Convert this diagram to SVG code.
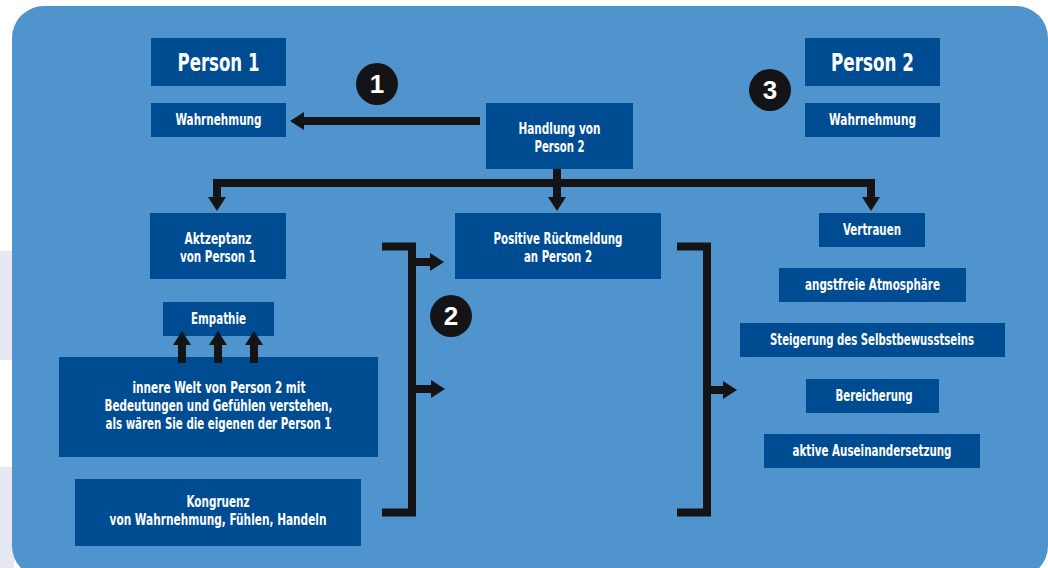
<svg xmlns="http://www.w3.org/2000/svg" width="1048" height="568" viewBox="0 0 1048 568">
  <defs>
    <style>
      .box { fill: #004c92; }
      .t { fill: #ffffff; font-family: "DejaVu Sans Condensed", "Liberation Sans", sans-serif; font-weight: bold; text-anchor: middle; font-size: 15px; }
      .big { font-size: 24px; }
      .wire { fill: none; stroke: #141416; stroke-width: 8; stroke-linejoin: miter; stroke-linecap: butt; }
      .badge circle { fill: #141416; }
      .badge text { fill: #ffffff; font-family: "Liberation Sans", Arial, sans-serif; font-weight: bold; font-size: 26px; text-anchor: middle; }
    </style>
    <marker id="head" markerUnits="userSpaceOnUse" markerWidth="14" markerHeight="18" refX="0" refY="9" orient="auto-start-reverse" viewBox="0 0 14 18">
      <path d="M0,0 L14,9 L0,18 Z" fill="#141416"/>
    </marker>
  </defs>

  <!-- page background -->
  <rect x="0" y="0" width="1048" height="568" fill="#ffffff"/>
  <rect x="0" y="251" width="14" height="109" fill="#e6e9f3"/>
  <rect x="0" y="467" width="14" height="101" fill="#e6e9f3"/>

  <!-- panel -->
  <rect x="12" y="6" width="1036" height="572" rx="32" ry="32" fill="#4f94cd"/>

  <!-- nodes -->
  <g id="person1">
    <rect class="box" x="151" y="38" width="135" height="48"/>
    <text class="t big" x="218.5" y="71" textLength="82" lengthAdjust="spacingAndGlyphs">Person 1</text>
  </g>
  <g id="wahrnehmung1">
    <rect class="box" x="151" y="103" width="135" height="34"/>
    <text class="t" x="218.5" y="125" textLength="86" lengthAdjust="spacingAndGlyphs">Wahrnehmung</text>
  </g>
  <g id="handlung">
    <rect class="box" x="486" y="103" width="147" height="66"/>
    <text class="t" x="559.5" y="134" textLength="82" lengthAdjust="spacingAndGlyphs">Handlung von</text>
    <text class="t" x="559.5" y="152" textLength="50" lengthAdjust="spacingAndGlyphs">Person 2</text>
  </g>
  <g id="person2">
    <rect class="box" x="805" y="38" width="135" height="48"/>
    <text class="t big" x="872.5" y="71" textLength="83" lengthAdjust="spacingAndGlyphs">Person 2</text>
  </g>
  <g id="wahrnehmung2">
    <rect class="box" x="805" y="103" width="135" height="34"/>
    <text class="t" x="872.5" y="125" textLength="87" lengthAdjust="spacingAndGlyphs">Wahrnehmung</text>
  </g>
  <g id="akzeptanz">
    <rect class="box" x="150" y="213" width="136" height="66"/>
    <text class="t" x="218" y="244" textLength="67" lengthAdjust="spacingAndGlyphs">Aktzeptanz</text>
    <text class="t" x="218" y="262" textLength="76" lengthAdjust="spacingAndGlyphs">von Person 1</text>
  </g>
  <g id="rueckmeldung">
    <rect class="box" x="455" y="213" width="206" height="66"/>
    <text class="t" x="558" y="244" textLength="129" lengthAdjust="spacingAndGlyphs">Positive Rückmeldung</text>
    <text class="t" x="558" y="262" textLength="68" lengthAdjust="spacingAndGlyphs">an Person 2</text>
  </g>
  <g id="empathie">
    <rect class="box" x="163" y="302" width="111" height="34"/>
    <text class="t" x="218.5" y="324" textLength="55" lengthAdjust="spacingAndGlyphs">Empathie</text>
  </g>
  <g id="innere-welt">
    <rect class="box" x="59" y="357" width="319" height="100"/>
    <text class="t" x="219" y="393" textLength="173" lengthAdjust="spacingAndGlyphs">innere Welt von Person 2 mit</text>
    <text class="t" x="218.5" y="411" textLength="228" lengthAdjust="spacingAndGlyphs">Bedeutungen und Gefühlen verstehen,</text>
    <text class="t" x="218.5" y="429" textLength="226" lengthAdjust="spacingAndGlyphs">als wären Sie die eigenen der Person 1</text>
  </g>
  <g id="kongruenz">
    <rect class="box" x="75" y="479" width="286" height="67"/>
    <text class="t" x="218" y="507" textLength="63" lengthAdjust="spacingAndGlyphs">Kongruenz</text>
    <text class="t" x="218" y="525" textLength="217" lengthAdjust="spacingAndGlyphs">von Wahrnehmung, Fühlen, Handeln</text>
  </g>
  <g id="vertrauen">
    <rect class="box" x="819" y="213" width="106" height="34"/>
    <text class="t" x="872" y="235" textLength="58" lengthAdjust="spacingAndGlyphs">Vertrauen</text>
  </g>
  <g id="atmosphaere">
    <rect class="box" x="779" y="268" width="187" height="34"/>
    <text class="t" x="872.5" y="290" textLength="135" lengthAdjust="spacingAndGlyphs">angstfreie Atmosphäre</text>
  </g>
  <g id="selbstbewusstsein">
    <rect class="box" x="740" y="323" width="265" height="34"/>
    <text class="t" x="872" y="345" textLength="204" lengthAdjust="spacingAndGlyphs">Steigerung des Selbstbewusstseins</text>
  </g>
  <g id="bereicherung">
    <rect class="box" x="806" y="379" width="133" height="34"/>
    <text class="t" x="874" y="401" textLength="77" lengthAdjust="spacingAndGlyphs">Bereicherung</text>
  </g>
  <g id="auseinandersetzung">
    <rect class="box" x="764" y="434" width="216" height="34"/>
    <text class="t" x="872" y="456" textLength="159" lengthAdjust="spacingAndGlyphs">aktive Auseinandersetzung</text>
  </g>

  <!-- step badges -->
  <g id="badge1" class="badge">
    <circle cx="377" cy="84" r="21"/>
    <text x="377" y="93">1</text>
  </g>
  <g id="badge2" class="badge">
    <circle cx="451" cy="316" r="21"/>
    <text x="451" y="325">2</text>
  </g>
  <g id="badge3" class="badge">
    <circle cx="770" cy="90" r="21"/>
    <text x="770" y="99">3</text>
  </g>

  <!-- connectors -->
  <g id="connectors">
    <path class="wire" d="M480,121 H304" marker-end="url(#head)"/>
    <path class="wire" d="M557,169 V197" marker-end="url(#head)"/>
    <path class="wire" d="M217,197 V183 H871 V197" marker-start="url(#head)" marker-end="url(#head)"/>
    <path class="wire" d="M382,246.5 H412 V512.5 H382"/>
    <path class="wire" d="M416,262 H430" marker-end="url(#head)"/>
    <path class="wire" d="M416,389 H431" marker-end="url(#head)"/>
    <path class="wire" d="M677,246.5 H707 V512.5 H677"/>
    <path class="wire" d="M711,390 H723" marker-end="url(#head)"/>
    <path class="wire" d="M182,363 V345" marker-end="url(#head)"/>
    <path class="wire" d="M218,363 V345" marker-end="url(#head)"/>
    <path class="wire" d="M254,363 V345" marker-end="url(#head)"/>
  </g>
</svg>
